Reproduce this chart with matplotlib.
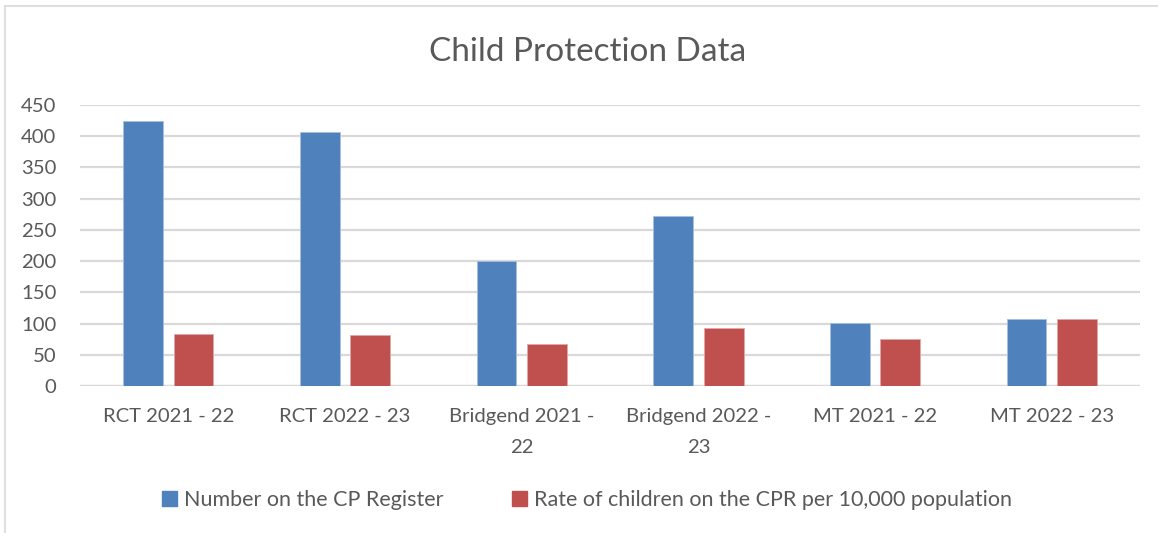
import numpy as np
import matplotlib.pyplot as plt
from matplotlib.lines import Line2D

categories = ["RCT 2021 - 22", "RCT 2022 - 23", "Bridgend 2021 -\n22",
              "Bridgend 2022 -\n23", "MT 2021 - 22", "MT 2022 - 23"]
number_on_register = [425, 407, 200, 273, 101, 107]
rate_per_10000 = [84, 81, 68, 93, 75, 107]
series_names = ["Number on the CP Register",
                "Rate of children on the CPR per 10,000 population"]
yticks = [0, 50, 100, 150, 200, 250, 300, 350, 400, 450]

plt.rcParams['font.family'] = ['Lato', 'DejaVu Sans']
txt = '#595959'
blue = '#4F81BD'
red = '#C0504D'
grid = '#D9D9D9'

fig = plt.figure(figsize=(11.58, 5.33), dpi=100)
ax = fig.add_axes([0.0691, 0.2758, 0.9154, 0.5272])

x = np.arange(len(categories))
w = 0.225
ax.bar(x - 0.143, number_on_register, w, color=blue, edgecolor='#A7C0DE', linewidth=0.6, zorder=3)
ax.bar(x + 0.143, rate_per_10000, w, color=red, edgecolor='#E0A8A6', linewidth=0.6, zorder=3)

ax.set_xlim(-0.5, len(categories) - 0.5)
ax.set_ylim(0, 450)
ax.set_yticks(yticks)
ax.set_xticks(x)
ax.set_xticklabels(categories, fontsize=14.6, color=txt, linespacing=2.0)
ax.tick_params(axis='y', labelsize=14.6, labelcolor=txt, length=0, pad=17)
ax.tick_params(axis='x', length=0, pad=16)
ax.yaxis.grid(True, color=grid, linewidth=1.6, zorder=0)
for s in ax.spines.values():
    s.set_visible(False)
ax.axhline(0, color=grid, linewidth=1.6, zorder=1)

fig.text(0.507, 0.903, "Child Protection Data", fontsize=24, color=txt,
         ha='center', va='center')

handles = [plt.Rectangle((0, 0), 1, 1, color=blue), plt.Rectangle((0, 0), 1, 1, color=red)]
fig.legend(handles, series_names, loc='center', bbox_to_anchor=(0.507, 0.062),
           ncol=2, frameon=False, fontsize=15.5, labelcolor=txt,
           handlelength=0.7, handleheight=0.7, handletextpad=0.3, columnspacing=3.2)

# chart border
fig.add_artist(Line2D([0.0043, 0.0043], [0, 0.989], color=grid, linewidth=1.2))
fig.add_artist(Line2D([0.0043, 1], [0.989, 0.989], color=grid, linewidth=1.2))

fig.savefig('out.png', dpi=100)
